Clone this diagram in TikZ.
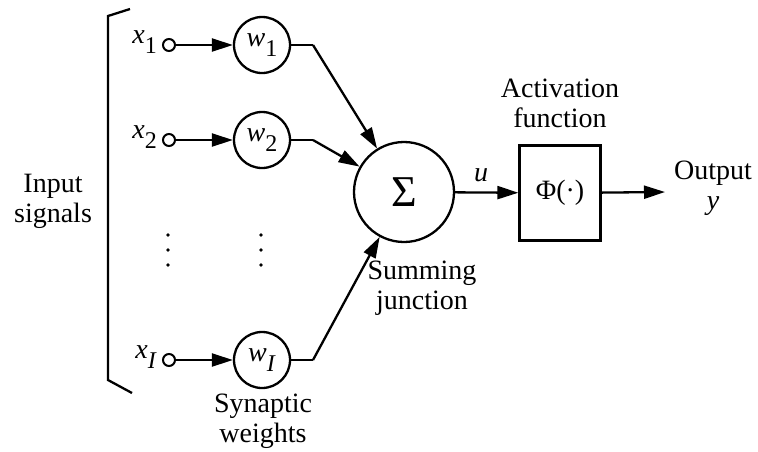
\documentclass[tikz,border=0pt]{standalone}
\usepackage{fontspec}
\setmainfont{Liberation Serif}
\usetikzlibrary{arrows.meta}
\newcommand{\vsub}[2]{\textit{#1}\raisebox{-0.33em}{\fontsize{24}{24}\selectfont #2}}
\tikzset{
  txt/.style={font=\fontsize{28}{30}\selectfont, inner sep=0pt, align=center},
  wcirc/.style={circle, draw, line width=2.3pt, minimum size=56pt, inner sep=0pt, font=\fontsize{28}{30}\selectfont},
  inp/.style={circle, draw, line width=2pt, fill=white, minimum size=12pt, inner sep=0pt},
  arr/.style={line width=2.3pt, -{Triangle[length=21pt,width=13pt]}},
  ln/.style={line width=2.3pt},
  vdot/.style={circle, fill, minimum size=3.6pt, inner sep=0pt},
}
\begin{document}
\begin{tikzpicture}[x=1pt,y=-1pt]
\useasboundingbox (0,0) rectangle (758,451);
% bracket
\draw[ln] (130,9) -- (108,16) -- (108,380) -- (132,393);
\node[txt] (insig) at (53,201) {Input\\signals};
% inputs
\node[inp] (i1) at (169,45) {};
\node[inp] (i2) at (169,140) {};
\node[inp] (iI) at (169,360) {};
\node[txt, anchor=east] (x1) at (157,42) {\vsub{x}{1}};
\node[txt, anchor=east] (x2) at (157,137) {\vsub{x}{2}};
\node[txt, anchor=east] (xI) at (157,357) {\vsub{x}{\textit{I}}};
% weights
\node[wcirc] (w1) at (262,45) {\vsub{w}{1}};
\node[wcirc] (w2) at (262,140) {\vsub{w}{2}};
\node[wcirc] (wI) at (262,360) {\vsub{w}{\textit{I}}};
% vertical ellipses
\node[vdot] (da1) at (168,235) {};
\node[vdot] (da2) at (168,250) {};
\node[vdot] (da3) at (168,265) {};
\node[vdot] (db1) at (261,235) {};
\node[vdot] (db2) at (261,250) {};
\node[vdot] (db3) at (261,265) {};
\node[txt] (syn) at (263,421) {Synaptic\\weights};
% summing
\node[circle, draw, line width=2.3pt, minimum size=100pt, inner sep=0pt, font=\fontsize{44}{44}\selectfont] (S) at (404,192) {Σ};
\node[txt] (sumj) at (422,288) {Summing\\junction};
% activation
\node[rectangle, draw, line width=2.3pt, minimum width=81pt, minimum height=95pt, inner sep=0pt, font=\fontsize{28}{30}\selectfont] (F) at (560,193) {Φ(·)};
\node[txt] (act) at (560,103) {Activation\\function};
\node[txt] (u) at (481,175) {\textit{u}};
\coordinate (oend) at (665,192);
\node[txt] (outl) at (713,188) {Output\\\textit{y}};
% connectors
\draw[arr] (i1) -- (w1);
\draw[arr] (i2) -- (w2);
\draw[arr] (iI) -- (wI);
\coordinate (b1) at (313,45);
\coordinate (b2) at (313,140);
\coordinate (bI) at (313,360);
\draw[ln] (w1.east) -- (b1);
\draw[ln] (w2.east) -- (b2);
\draw[ln] (wI.east) -- (bI);
\draw[arr] (b1) -- (S);
\draw[arr] (b2) -- (S);
\draw[arr] (bI) -- (S);
\draw[arr] (S) -- (F);
\draw[arr] (F) -- (oend);
\end{tikzpicture}
\end{document}
